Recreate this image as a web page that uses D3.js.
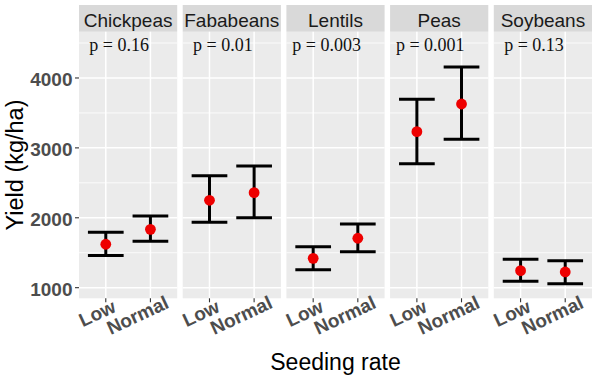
<!DOCTYPE html>
<html>
<head>
<meta charset="utf-8">
<script src="https://cdn.jsdelivr.net/npm/d3@7"></script>
<style>
  html, body { margin: 0; padding: 0; background: #ffffff; }
  svg { display: block; }
</style>
</head>
<body>
<svg id="chart" width="597" height="380"></svg>
<script>
// ---- data ----
const crops = ["Chickpeas", "Fababeans", "Lentils", "Peas", "Soybeans"];
const rates = ["Low", "Normal"];
const meanLow     = [1621, 2250, 1420, 3232, 1243];
const meanNormal  = [1835, 2359, 1707, 3628, 1225];
const lowerLow    = [1461, 1936, 1257, 2774, 1092];
const upperLow    = [1792, 2602, 1587, 3695, 1406];
const lowerNormal = [1664, 2001, 1515, 3123, 1057];
const upperNormal = [2026, 2741, 1911, 4157, 1386];
const pLabels = ["p = 0.16", "p = 0.01", "p = 0.003", "p = 0.001", "p = 0.13"];
const yTicks = [1000, 2000, 3000, 4000];
const yMinorTicks = [1500, 2500, 3500, 4500];
const yTitle = "Yield (kg/ha)";
const xTitle = "Seeding rate";

// build rows
const rows = [];
crops.forEach((c, i) => {
  rows.push({crop: c, rate: "Low", mean: meanLow[i], lo: lowerLow[i], hi: upperLow[i]});
  rows.push({crop: c, rate: "Normal", mean: meanNormal[i], lo: lowerNormal[i], hi: upperNormal[i]});
});

// ---- layout ----
const svg = d3.select("#chart");
const plotLeft = 79, plotRight = 592;
const stripTop = 5, panelTop = 31.7, panelBottom = 298.3;
const sans = "'Liberation Sans', Arial, sans-serif";
const serif = "'Liberation Serif', 'Times New Roman', serif";

const fx = d3.scaleBand().domain(crops).range([plotLeft, plotRight]).paddingInner(0.053).paddingOuter(0);
const bw = fx.bandwidth();
const x = d3.scalePoint().domain(rates).range([0, bw]).padding(0.6);
const step = x.step();
const y = d3.scaleLinear().domain([848, 4662]).range([panelBottom, panelTop]);

crops.forEach((c, i) => {
  const g = svg.append("g").attr("transform", `translate(${fx(c)},0)`);
  // panel background
  g.append("rect").attr("x", 0).attr("y", panelTop).attr("width", bw)
    .attr("height", panelBottom - panelTop).attr("fill", "#EBEBEB");
  // strip
  g.append("rect").attr("x", 0).attr("y", stripTop).attr("width", bw)
    .attr("height", panelTop - stripTop).attr("fill", "#D9D9D9");
  g.append("text").attr("x", bw / 2).attr("y", 26.5).attr("text-anchor", "middle")
    .attr("font-family", sans).attr("font-size", 19).attr("fill", "#1A1A1A").text(c);
  // minor grid
  g.selectAll(".minor").data(yMinorTicks).join("line")
    .attr("x1", 0).attr("x2", bw).attr("y1", d => y(d)).attr("y2", d => y(d))
    .attr("stroke", "#FFFFFF").attr("stroke-width", 0.8);
  // major grid
  g.selectAll(".major").data(yTicks).join("line")
    .attr("x1", 0).attr("x2", bw).attr("y1", d => y(d)).attr("y2", d => y(d))
    .attr("stroke", "#FFFFFF").attr("stroke-width", 1.5);
  g.selectAll(".vgrid").data(rates).join("line")
    .attr("x1", d => x(d)).attr("x2", d => x(d)).attr("y1", panelTop).attr("y2", panelBottom)
    .attr("stroke", "#FFFFFF").attr("stroke-width", 1.5);
  // x ticks
  g.selectAll(".xtick").data(rates).join("line")
    .attr("x1", d => x(d)).attr("x2", d => x(d)).attr("y1", panelBottom).attr("y2", panelBottom + 4)
    .attr("stroke", "#333333").attr("stroke-width", 1.1);
  // x tick labels
  rates.forEach(r => {
    const t = g.append("g").attr("transform", `translate(${x(r)},316.5) rotate(-25)`)
      .append("text").attr("text-anchor", "start")
      .attr("font-family", sans).attr("font-weight", "bold").attr("font-size", 19)
      .attr("fill", "#4D4D4D").text(r);
    const len = t.node().getComputedTextLength();
    t.attr("x", -0.67 * len);
  });
  // p label
  g.append("text").attr("x", x("Low") + 0.3 * step).attr("y", 50.5).attr("text-anchor", "middle")
    .attr("font-family", serif).attr("font-size", 18).attr("fill", "#111111").text(pLabels[i]);

  // error bars
  const data = rows.filter(d => d.crop === c);
  const hw = 0.4 * step;
  const eb = g.selectAll(".eb").data(data).join("g");
  eb.append("line").attr("x1", d => x(d.rate)).attr("x2", d => x(d.rate))
    .attr("y1", d => y(d.lo)).attr("y2", d => y(d.hi))
    .attr("stroke", "#000").attr("stroke-width", 3);
  eb.append("line").attr("x1", d => x(d.rate) - hw).attr("x2", d => x(d.rate) + hw)
    .attr("y1", d => y(d.lo)).attr("y2", d => y(d.lo))
    .attr("stroke", "#000").attr("stroke-width", 3);
  eb.append("line").attr("x1", d => x(d.rate) - hw).attr("x2", d => x(d.rate) + hw)
    .attr("y1", d => y(d.hi)).attr("y2", d => y(d.hi))
    .attr("stroke", "#000").attr("stroke-width", 3);
  // points
  g.selectAll(".pt").data(data).join("circle")
    .attr("cx", d => x(d.rate)).attr("cy", d => y(d.mean)).attr("r", 5.4)
    .attr("fill", "#EE0000");
});

// y axis ticks and labels
const ya = svg.append("g");
ya.selectAll("line").data(yTicks).join("line")
  .attr("x1", plotLeft - 4).attr("x2", plotLeft).attr("y1", d => y(d)).attr("y2", d => y(d))
  .attr("stroke", "#333333").attr("stroke-width", 1.1);
ya.selectAll("text").data(yTicks).join("text")
  .attr("x", plotLeft - 6.5).attr("y", d => y(d)).attr("dy", "0.42em").attr("text-anchor", "end")
  .attr("font-family", sans).attr("font-weight", "bold").attr("font-size", 19)
  .attr("fill", "#4D4D4D").text(d => d);

// axis titles
svg.append("text").attr("transform", `translate(22.5,${(panelTop + panelBottom) / 2}) rotate(-90)`)
  .attr("text-anchor", "middle").attr("font-family", sans).attr("font-size", 23.5)
  .attr("fill", "#000").text(yTitle);
svg.append("text").attr("x", (plotLeft + plotRight) / 2).attr("y", 370).attr("text-anchor", "middle")
  .attr("font-family", sans).attr("font-size", 23).attr("fill", "#000").text(xTitle);
</script>
</body>
</html>
